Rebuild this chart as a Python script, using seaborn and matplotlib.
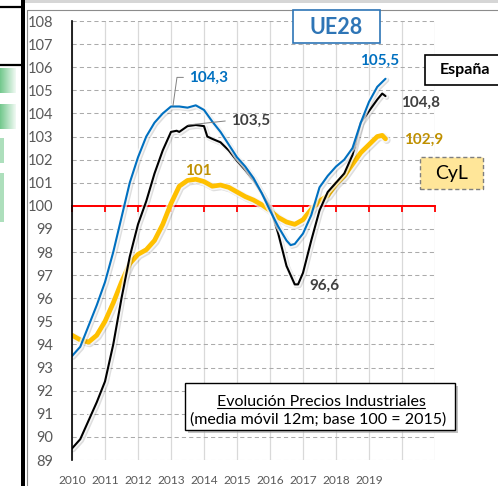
import numpy as np
import pandas as pd
import matplotlib
matplotlib.use("Agg")
import matplotlib.pyplot as plt
import matplotlib.patheffects as pe
from matplotlib.patches import Rectangle
from matplotlib.lines import Line2D
from matplotlib.colors import LinearSegmentedColormap
import seaborn as sns

# readings taken off the chart, roughly quarterly (12m moving average, base 2015 = 100)
ue28_x = [2010.0, 2010.25, 2010.5, 2010.75, 2011.0, 2011.25, 2011.5, 2011.75, 2012.0, 2012.25,
          2012.5, 2012.75, 2013.0, 2013.25, 2013.5, 2013.75, 2014.0, 2014.25, 2014.5, 2014.75,
          2015.0, 2015.25, 2015.5, 2015.75, 2016.0, 2016.25, 2016.5, 2016.625, 2016.75, 2017.0,
          2017.25, 2017.5, 2017.75, 2018.0, 2018.25, 2018.5, 2018.75, 2019.0, 2019.25, 2019.5]
ue28_v = [93.5, 93.9, 94.8, 95.7, 96.7, 98.0, 99.5, 101.0, 102.1, 103.0,
          103.6, 104.0, 104.3, 104.3, 104.25, 104.35, 104.15, 103.65, 103.2, 102.65,
          102.1, 101.7, 101.2, 100.55, 99.8, 99.1, 98.5, 98.3, 98.35, 98.8,
          99.6, 100.8, 101.3, 101.7, 102.0, 102.5, 103.6, 104.5, 105.15, 105.5]

esp_x = [2010.0, 2010.25, 2010.5, 2010.75, 2011.0, 2011.25, 2011.5, 2011.75, 2012.0, 2012.25,
         2012.5, 2012.75, 2013.0, 2013.17, 2013.25, 2013.5, 2013.75, 2014.0, 2014.1, 2014.25,
         2014.5, 2014.75, 2015.0, 2015.25, 2015.5, 2015.75, 2016.0, 2016.25, 2016.5, 2016.75,
         2016.85, 2017.0, 2017.25, 2017.5, 2017.75, 2018.0, 2018.25, 2018.5, 2018.75, 2019.0,
         2019.25, 2019.4, 2019.5]
esp_v = [89.5, 89.9, 90.7, 91.5, 92.4, 94.0, 96.0, 97.8, 99.2, 100.2,
         101.4, 102.4, 103.2, 103.25, 103.2, 103.45, 103.5, 103.45, 103.0, 102.9,
         102.75, 102.4, 101.95, 101.55, 101.1, 100.55, 99.95, 98.8, 97.4, 96.6,
         96.6, 97.1, 98.5, 99.8, 100.6, 101.0, 101.4, 102.2, 103.6, 104.1,
         104.6, 104.86, 104.75]

cyl_x = [2010.0, 2010.25, 2010.5, 2010.75, 2011.0, 2011.25, 2011.5, 2011.75, 2012.0, 2012.25,
         2012.5, 2012.75, 2013.0, 2013.25, 2013.5, 2013.75, 2014.0, 2014.25, 2014.5, 2014.75,
         2015.0, 2015.25, 2015.5, 2015.75, 2016.0, 2016.25, 2016.5, 2016.75, 2017.0, 2017.25,
         2017.5, 2017.75, 2018.0, 2018.25, 2018.5, 2018.75, 2019.0, 2019.25, 2019.4, 2019.5]
cyl_v = [94.4, 94.2, 94.1, 94.4, 95.0, 95.8, 96.7, 97.5, 97.9, 98.1,
         98.5, 99.2, 100.1, 100.85, 101.1, 101.15, 101.05, 100.85, 100.9, 100.8,
         100.6, 100.4, 100.25, 100.05, 99.8, 99.5, 99.3, 99.2, 99.4, 99.85,
         100.2, 100.45, 100.95, 101.3, 101.8, 102.3, 102.65, 103.0, 103.05, 102.9]

years = list(range(2010, 2022))
year_labels = [str(y) if y <= 2019 else "" for y in years]
base = 100

# build one long table for seaborn (drawing order: CyL, España, UE28)
df = pd.concat([
    pd.DataFrame({"x": cyl_x, "v": cyl_v, "serie": "CyL"}),
    pd.DataFrame({"x": esp_x, "v": esp_v, "serie": "España"}),
    pd.DataFrame({"x": ue28_x, "v": ue28_v, "serie": "UE28"}),
])
colors = {"CyL": "#FFC000", "España": "#000000", "UE28": "#0070C0"}
widths = {"CyL": 3.4, "España": 1.5, "UE28": 1.5}

sns.set_style("white")
plt.rcParams['font.family'] = ['Lato', 'DejaVu Sans']

W, H = 498, 486
def fx(px):
    return px / W
def fy(py):
    return 1 - py / H

fig = plt.figure(figsize=(4.98, 4.86), dpi=100)
ax = fig.add_axes([fx(72), fy(460), 363 / W, 439 / H])

sns.lineplot(data=df, x="x", y="v", hue="serie", size="serie", palette=colors,
             sizes=widths, estimator=None, sort=False, legend=False, ax=ax, zorder=3)

for ln in ax.lines:
    lw = ln.get_linewidth()
    ln.set_solid_capstyle("round")
    ln.set_solid_joinstyle("round")
    ln.set_path_effects([
        pe.SimpleLineShadow(offset=(1.0, -1.0), shadow_color="black", alpha=0.13, linewidth=lw + 2),
        pe.Stroke(linewidth=lw + 2.5, foreground="white", alpha=0.7),
        pe.Normal(),
    ])

ax.set_xlim(2010, 2021)
ax.set_ylim(89, 108)

# grid
ax.set_yticks(range(89, 109))
ax.set_yticks(np.arange(89.5, 108, 1), minor=True)
ax.set_xticks(years)
ax.set_xticklabels(year_labels)
ax.yaxis.grid(True, which="major", color="#ABABAB", linestyle=(0, (4, 3)), linewidth=0.75)
ax.xaxis.grid(True, which="major", color="#D9D9D9", linestyle="-", linewidth=0.9)
ax.set_axisbelow(True)

for s in ["top", "right", "bottom"]:
    ax.spines[s].set_visible(False)
ax.spines["left"].set_color("black")
ax.spines["left"].set_linewidth(1.2)
ax.spines["left"].set_zorder(4)

ax.tick_params(axis="y", which="both", direction="inout", length=9, width=1, color="black",
               labelsize=10.5, labelcolor="#595959", pad=9)
ax.tick_params(axis="x", which="major", length=0, labelsize=8.6, labelcolor="#595959", pad=11)
ax.set_xlabel("")
ax.set_ylabel("")

# red base-100 line with year ticks pointing down
ax.axhline(base, color="#FF0000", lw=1.4, zorder=2.5)
red_ax = ax.secondary_xaxis((base - 89) / (108 - 89))
red_ax.set_xticks(years)
red_ax.set_xticklabels([])
for s in ["top", "bottom"]:
    red_ax.spines[s].set_color("#FF0000")
    red_ax.spines[s].set_linewidth(1.4)
red_ax.xaxis.set_ticks_position("bottom")
red_ax.tick_params(axis="x", which="both", bottom=True, top=False, direction="out",
                   length=4, width=1.3, color="#FF0000")
red_ax.set_zorder(2.6)

# value labels
lbl = dict(fontweight="bold", fontsize=11, ha="center", va="center", zorder=6)
ax.annotate("104,3", xy=(2013.06, max(ue28_v[:16]) - 0.02), xytext=(2014.15, 105.56),
            color="#0070C0", **lbl,
            arrowprops=dict(arrowstyle="-", color="#808080", lw=0.7, relpos=(0, 0.5),
                            connectionstyle="angle,angleA=0,angleB=82,rad=0",
                            shrinkA=2, shrinkB=0))
ax.annotate("103,5", xy=(2013.52, max(esp_v[:18])), xytext=(2015.42, 103.7),
            color="#404040", **lbl,
            arrowprops=dict(arrowstyle="-", color="#808080", lw=0.7, relpos=(0, 0.5),
                            shrinkA=2, shrinkB=0))
ax.text(2013.82, 101.49, "101", color="#BF9000", **lbl)
ax.text(2019.33, 106.26, "105,5", color="#0070C0", **lbl)
ax.text(2020.55, 104.44, "104,8", color="#404040", **lbl)
ax.text(2020.64, 102.84, "102,9", color="#BF9000", **lbl)
ax.text(2017.64, 96.52, "96,6", color="#404040", **lbl)

# page decorations (left panel, frame)
fig.add_artist(Rectangle((fx(25), fy(3)), 1, 3 / H, transform=fig.transFigure,
                         facecolor="#D6D6D6", edgecolor="none", zorder=1))
fig.add_artist(Line2D([fx(27), fx(27)], [0, fy(10)], transform=fig.transFigure,
                      color="#8C8C8C", lw=0.8, zorder=1))
fig.add_artist(Line2D([fx(27), 1], [fy(10), fy(10)], transform=fig.transFigure,
                      color="#8C8C8C", lw=0.8, zorder=1))
fig.add_artist(Rectangle((fx(21), 0), 3.5 / W, 1, transform=fig.transFigure,
                         facecolor="black", edgecolor="none", zorder=2))
for py in [7, 65]:
    fig.add_artist(Line2D([0, fx(22)], [fy(py), fy(py)], transform=fig.transFigure,
                          color="black", lw=1.6, zorder=2))
green = LinearSegmentedColormap.from_list("g", ["#5CBF7A", "#FFFFFF"])
for (y0, y1, x1) in [(68, 93, 16), (104, 129, 16), (138, 163, 4), (173, 197, 3), (197, 222, 3)]:
    gax = fig.add_axes([0, fy(y1), x1 / W, (y1 - y0) / H])
    gax.imshow(np.linspace(0.15, 0.9, 20)[None, :] if x1 > 5 else np.full((1, 2), 0.5),
               cmap=green, vmin=0, vmax=1, aspect="auto")
    gax.set_axis_off()

# UE28 box
fig.add_artist(Rectangle((fx(293), fy(43)), 87 / W, 33 / H, transform=fig.transFigure,
                         facecolor="white", edgecolor="#2E75B6", lw=1.2, zorder=5))
fig.text(fx(336.5), fy(27), "UE28", color="#2E75B6", fontsize=15.5, fontweight="bold",
         ha="center", va="center", zorder=6)

# España box
fig.add_artist(Rectangle((fx(425), fy(85)), 80 / W, 30 / H, transform=fig.transFigure,
                         facecolor="white", edgecolor="black", lw=1.2, zorder=5))
fig.text(fx(465), fy(70), "España", color="black", fontsize=11.5, fontweight="bold",
         ha="center", va="center", zorder=6)

# CyL box
fig.add_artist(Rectangle((fx(420), fy(189)), 63 / W, 32 / H, transform=fig.transFigure,
                         facecolor="#FFE699", edgecolor="#7F7F7F", lw=1, linestyle=(0, (3, 2)),
                         zorder=5))
fig.text(fx(451.5), fy(173), "CyL", color="black", fontsize=14,
         ha="center", va="center", zorder=6)

# title box
fig.add_artist(Rectangle((fx(188), fy(433)), 270 / W, 47 / H, transform=fig.transFigure,
                         facecolor="#9A9A9A", edgecolor="none", alpha=0.6, zorder=5))
fig.add_artist(Rectangle((fx(185), fy(430)), 270 / W, 47 / H, transform=fig.transFigure,
                         facecolor="white", edgecolor="black", lw=1, zorder=5))
t1 = fig.text(fx(321), fy(402), "Evolución Precios Industriales", color="black", fontsize=11.5,
              ha="center", va="center", zorder=6)
fig.text(fx(318.5), fy(420), "(media móvil 12m; base 100 = 2015)", color="black", fontsize=11.5,
         ha="center", va="center", zorder=6)

# underline the first title line
fig.canvas.draw()
bb = t1.get_window_extent().transformed(fig.transFigure.inverted())
fig.add_artist(Line2D([bb.x0, bb.x1], [bb.y0 + 0.002, bb.y0 + 0.002], transform=fig.transFigure,
                      color="black", lw=0.8, zorder=6))

fig.savefig("out.png", dpi=100)
